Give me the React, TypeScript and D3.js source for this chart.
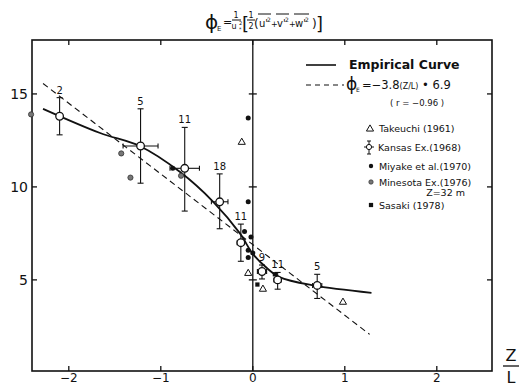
import React from "react";
import * as d3 from "d3";

const width = 522;
const height = 386;

// axis ticks
const xTicks = [-2, -1, 0, 1, 2];
const yTicks = [5, 10, 15];

// Kansas Ex. (1968): mean, spread, number of runs
const kansasX = [-2.1, -1.22, -0.74, -0.36, -0.13, 0.1, 0.27, 0.7];
const kansasY = [13.8, 12.2, 11.0, 9.2, 7.0, 5.45, 5.0, 4.7];
const kansasLo = [12.8, 10.2, 8.7, 7.75, 6.0, 5.05, 4.5, 4.0];
const kansasHi = [14.8, 14.2, 13.2, 10.7, 8.0, 5.8, 5.4, 5.3];
const kansasXErr = [0, 0.19, 0.16, 0.09, 0.04, 0.05, 0.04, 0.05];
const kansasN = ["2", "5", "11", "18", "11", "9", "11", "5"];

// Takeuchi (1961)
const takeuchiX = [-0.12, -0.05, 0.11, 0.98];
const takeuchiY = [12.4, 5.35, 4.5, 3.8];

// Miyake et al. (1970)
const miyakeX = [-0.05, -0.05, -0.09, -0.02, -0.05, -0.05, 0.0, -0.87];
const miyakeY = [13.7, 9.2, 7.6, 7.3, 6.6, 6.2, 6.45, 11.0];

// Minesota Ex. (1976)
const minesotaX = [-2.41, -1.43, -1.33, -0.78];
const minesotaY = [13.9, 11.8, 10.5, 10.6];

// Sasaki (1978)
const sasakiX = [0.05, 0.24];
const sasakiY = [4.75, 5.3];

// empirical curve
const curveX = [-2.28, -1.66, -1.23, -0.79, -0.43, -0.14, 0, 0.15, 0.29, 0.66, 1.29];
const curveY = [14.2, 12.9, 12.2, 10.8, 9.2, 7.5, 6.4, 5.65, 5.15, 4.7, 4.3];

// regression line  phi = -3.8 (Z/L) + 6.9
const fitX = [-2.28, 1.27];
const fitY = [15.56, 2.07];

const font = "'DejaVu Sans', sans-serif";

function Primed({x0, ch, w}: {x0: number, ch: string, w: number}) {
  // a variable with prime, square, overbar as in the title
  return (
    <g>
      <text x={x0} y={27} fontSize={10}>{ch}'</text>
      <text x={x0 + w} y={22} fontSize={6}>2</text>
      <line x1={x0 - 1} x2={x0 + w + 4} y1={14} y2={14} stroke="#111" strokeWidth={1}/>
    </g>
  );
}

function App() {
  const x = d3.scaleLinear().domain([-2.4, 2.6]).range([32, 492]);
  const y = d3.scaleLinear().domain([0.1, 17.9]).range([371, 40]);

  const smooth = d3.line<[number, number]>().x(d => x(d[0])).y(d => y(d[1]))
    .curve(d3.curveCatmullRom.alpha(0.5));
  const curvePath = smooth(curveX.map((v, i) => [v, curveY[i]]) as [number, number][]);
  const fitPath = d3.line<[number, number]>().x(d => x(d[0])).y(d => y(d[1]))(
    fitX.map((v, i) => [v, fitY[i]]) as [number, number][]
  );

  const tri = d3.symbol(d3.symbolTriangle, 22);
  const sq = d3.symbol(d3.symbolSquare, 18);

  const [x0, x1] = x.range();
  const [yb, yt] = y.range();

  return (
    <svg width={width} height={height} style={{position: "absolute", left: 0, top: 0, background: "#fff"}}
         fontFamily={font}>
      {/* title */}
      <g fill="#111" stroke="none">
        <text x={205} y={29} fontSize={20}>ϕ</text>
        <text x={217} y={31} fontSize={7}>E</text>
        <text x={223} y={26} fontSize={11}>=</text>
        <text x={236} y={18} fontSize={8} textAnchor="middle">1</text>
        <line x1={232} x2={241} y1={20} y2={20} stroke="#111" strokeWidth={1}/>
        <text x={234} y={29} fontSize={8} textAnchor="middle">u</text>
        <text x={239} y={25} fontSize={5}>2</text>
        <text x={239} y={31} fontSize={5}>*</text>
        <text x={242} y={30} fontSize={18}>[</text>
        <text x={251} y={18} fontSize={8} textAnchor="middle">1</text>
        <line x1={247} x2={255} y1={20} y2={20} stroke="#111" strokeWidth={1}/>
        <text x={251} y={29} fontSize={8} textAnchor="middle">2</text>
        <text x={254} y={28} fontSize={12}>(</text>
        <Primed x0={259} ch="u" w={8}/>
        <text x={271} y={27} fontSize={8}>+</text>
        <Primed x0={277} ch="v" w={8}/>
        <text x={289} y={27} fontSize={8}>+</text>
        <Primed x0={295} ch="w" w={10}/>
        <text x={312} y={28} fontSize={12}>)</text>
        <text x={316} y={30} fontSize={18}>]</text>
      </g>

      {/* frame */}
      <rect x={x0} y={yt} width={x1 - x0} height={yb - yt} fill="none" stroke="#111" strokeWidth={1.6}/>
      <line x1={x(0)} x2={x(0)} y1={yt} y2={yb} stroke="#111" strokeWidth={1.3}/>

      {/* ticks */}
      {xTicks.map(t => (
        <g key={"xt" + t}>
          <line x1={x(t)} x2={x(t)} y1={yb} y2={yb - 5} stroke="#111" strokeWidth={1.3}/>
          <line x1={x(t)} x2={x(t)} y1={yt} y2={yt + 5} stroke="#111" strokeWidth={1.3}/>
          <text x={x(t)} y={382} fontSize={12} textAnchor="middle" fill="#111">
            {t < 0 ? "\u2212" + Math.abs(t) : t}
          </text>
        </g>
      ))}
      {yTicks.map(t => (
        <g key={"yt" + t}>
          <line x1={x0} x2={x0 + 5} y1={y(t)} y2={y(t)} stroke="#111" strokeWidth={1.3}/>
          <line x1={x1} x2={x1 - 5} y1={y(t)} y2={y(t)} stroke="#111" strokeWidth={1.3}/>
          <line x1={x(0) - 4} x2={x(0) + 4} y1={y(t)} y2={y(t)} stroke="#111" strokeWidth={1.3}/>
          <text x={x0 - 4} y={y(t) + 5} fontSize={14} textAnchor="end" fill="#111">{t}</text>
        </g>
      ))}
      <text x={511} y={361} fontSize={16} textAnchor="middle" fill="#111">Z</text>
      <line x1={503} x2={519} y1={366} y2={366} stroke="#111" strokeWidth={1.3}/>
      <text x={511} y={383} fontSize={16} textAnchor="middle" fill="#111">L</text>

      {/* fit line and empirical curve */}
      <path d={fitPath ?? ""} fill="none" stroke="#111" strokeWidth={1.1} strokeDasharray="6,4"/>
      <path d={curvePath ?? ""} fill="none" stroke="#111" strokeWidth={1.8}/>

      {/* Kansas error bars */}
      {kansasX.map((v, i) => (
        <g key={"k" + i} stroke="#111" strokeWidth={1.1}>
          <line x1={x(v)} x2={x(v)} y1={y(kansasLo[i])} y2={y(kansasHi[i])}/>
          <line x1={x(v) - 3} x2={x(v) + 3} y1={y(kansasLo[i])} y2={y(kansasLo[i])}/>
          <line x1={x(v) - 3} x2={x(v) + 3} y1={y(kansasHi[i])} y2={y(kansasHi[i])}/>
          {kansasXErr[i] > 0 && (
            <g>
              <line x1={x(v - kansasXErr[i])} x2={x(v + kansasXErr[i])} y1={y(kansasY[i])} y2={y(kansasY[i])}/>
              <line x1={x(v - kansasXErr[i])} x2={x(v - kansasXErr[i])} y1={y(kansasY[i]) - 2.5} y2={y(kansasY[i]) + 2.5}/>
              <line x1={x(v + kansasXErr[i])} x2={x(v + kansasXErr[i])} y1={y(kansasY[i]) - 2.5} y2={y(kansasY[i]) + 2.5}/>
            </g>
          )}
          <text x={x(v)} y={y(kansasHi[i]) - 4} fontSize={10} textAnchor="middle" fill="#111" stroke="none">
            {kansasN[i]}
          </text>
        </g>
      ))}

      {/* other data sets */}
      {minesotaX.map((v, i) => (
        <circle key={"mn" + i} cx={x(v)} cy={y(minesotaY[i])} r={2.6} fill="#777" stroke="#333" strokeWidth={0.8}/>
      ))}
      {miyakeX.map((v, i) => (
        <circle key={"my" + i} cx={x(v)} cy={y(miyakeY[i])} r={2.5} fill="#111"/>
      ))}
      {sasakiX.map((v, i) => (
        <path key={"s" + i} d={sq() ?? ""} transform={`translate(${x(v)},${y(sasakiY[i])})`} fill="#111"/>
      ))}
      {takeuchiX.map((v, i) => (
        <path key={"t" + i} d={tri() ?? ""} transform={`translate(${x(v)},${y(takeuchiY[i])})`}
              fill="#fff" stroke="#111" strokeWidth={1}/>
      ))}
      {kansasX.map((v, i) => (
        <circle key={"kc" + i} cx={x(v)} cy={y(kansasY[i])} r={3.8} fill="#fff" stroke="#111" strokeWidth={1.3}/>
      ))}

      {/* legend */}
      <g fill="#111">
        <line x1={306} x2={336} y1={65} y2={65} stroke="#111" strokeWidth={1.6}/>
        <text x={349} y={69} fontSize={12.5} fontWeight="600">Empirical Curve</text>
        <line x1={306} x2={344} y1={85} y2={85} stroke="#111" strokeWidth={1.1} strokeDasharray="5,4"/>
        <text x={346} y={90} fontSize={17}>ϕ</text>
        <text x={356} y={92} fontSize={6}>E</text>
        <text x={362} y={89} fontSize={11.5}>=−3.8<tspan fontSize={8}>(Z/L)</tspan> • 6.9</text>
        <text x={390} y={106} fontSize={8.5}>( r = −0.96 )</text>

        <path d={tri() ?? ""} transform="translate(370,129)" fill="#fff" stroke="#111" strokeWidth={1}/>
        <text x={379} y={132} fontSize={9.5}>Takeuchi (1961)</text>

        <g stroke="#111" strokeWidth={1}>
          <line x1={369} x2={369} y1={141} y2={154}/>
          <line x1={367} x2={371} y1={141} y2={141}/>
          <line x1={367} x2={371} y1={154} y2={154}/>
          <line x1={364} x2={374} y1={147} y2={147}/>
          <circle cx={369} cy={147} r={2.6} fill="#fff"/>
        </g>
        <text x={378} y={151} fontSize={9.5}>Kansas Ex.(1968)</text>

        <circle cx={371} cy={166} r={2.2} fill="#111"/>
        <text x={379} y={170} fontSize={9.5}>Miyake et al.(1970)</text>

        <circle cx={371} cy={182} r={2.2} fill="#777" stroke="#333" strokeWidth={0.7}/>
        <text x={379} y={186} fontSize={9.5}>Minesota Ex.(1976)</text>
        <text x={465} y={196} fontSize={9.5} textAnchor="end">Z=32 m</text>

        <path d={sq() ?? ""} transform="translate(371,205)" fill="#111"/>
        <text x={379} y={209} fontSize={9.5}>Sasaki (1978)</text>
      </g>
    </svg>
  );
}

export default App;
